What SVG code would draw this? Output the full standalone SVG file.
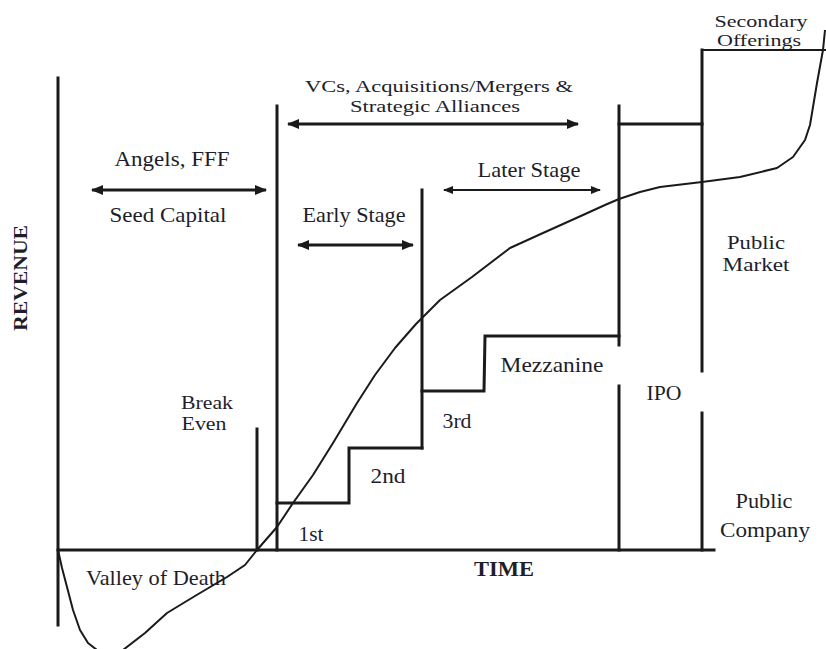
<svg xmlns="http://www.w3.org/2000/svg" width="826" height="649" viewBox="0 0 826 649">
<style>
.ln{stroke:#1a1a1a;stroke-width:3;fill:none;stroke-linecap:square}
.thin{stroke:#1a1a1a;stroke-width:2;fill:none}
.t{font-family:"Liberation Serif","Times New Roman",serif;font-size:21px;fill:#1e1e2a;text-anchor:middle}
.s{font-size:17px}
.m{font-size:18px}
.b{font-weight:bold}
</style>
<defs>
<marker id="ah" viewBox="0 0 12 10" refX="11" refY="5" markerWidth="12" markerHeight="10" markerUnits="userSpaceOnUse" orient="auto-start-reverse">
<path d="M0,0 L12,5 L0,10 Z" fill="#1a1a1a"/>
</marker>
<marker id="ahs" viewBox="0 0 10 8" refX="9" refY="4" markerWidth="10" markerHeight="8" markerUnits="userSpaceOnUse" orient="auto-start-reverse">
<path d="M0,0 L10,4 L0,8 Z" fill="#1a1a1a"/>
</marker>
</defs>
<rect width="826" height="649" fill="#fff"/>
<g id="axes">
<line class="ln" x1="58" y1="78" x2="58" y2="625"/>
<line class="ln" x1="58" y1="550" x2="714" y2="550"/>
<text class="t b" x="0" y="0" transform="translate(27,278) rotate(-90)" textLength="106" lengthAdjust="spacingAndGlyphs" style="font-size:18px">REVENUE</text>
<text class="t b" x="504" y="576" textLength="60" lengthAdjust="spacingAndGlyphs">TIME</text>
</g>
<g id="connectors">
<line class="ln" x1="257" y1="429" x2="257" y2="550"/>
<line class="ln" x1="277" y1="106" x2="277" y2="550"/>
<polyline class="ln" points="277,503 349,503 349,448 422,448"/>
<line class="ln" x1="422" y1="190" x2="422" y2="448"/>
<polyline class="ln" points="422,391 484,391 485,336 619,336"/>
<line class="ln" x1="619" y1="106" x2="619" y2="345"/>
<line class="ln" x1="619" y1="386" x2="619" y2="550"/>
<line class="ln" x1="619" y1="124" x2="702" y2="124"/>
<line class="ln" x1="702" y1="50" x2="702" y2="371"/>
<line class="ln" x1="702" y1="413" x2="702" y2="550"/>
<line class="thin" x1="702" y1="50" x2="826" y2="50"/>
<line class="ln" x1="92" y1="190" x2="266" y2="190" marker-start="url(#ah)" marker-end="url(#ah)" style="stroke-linecap:butt"/>
<line class="ln" x1="288" y1="124" x2="578" y2="124" marker-start="url(#ah)" marker-end="url(#ah)" style="stroke-linecap:butt"/>
<line class="ln" x1="298" y1="245" x2="413" y2="245" marker-start="url(#ah)" marker-end="url(#ah)" style="stroke-linecap:butt"/>
<line class="thin" x1="444" y1="190" x2="600" y2="190" marker-start="url(#ahs)" marker-end="url(#ahs)"/>
</g>
<g id="curve">
<polyline class="thin" stroke-linejoin="round" points="58,550 62,568 67,587 73,610 80,630 88,643 97,650 110,652 123,650 145,633 167,613 195,596 227,577 245,565 257,550 277,527 293,503 313,475 333,443 357,403 375,375 395,348 416,324 440,300 472,277 510,248 543,233 583,215 605,205 619,199 640,192 660,187 702,182 740,177 777,168 793,157 805,140 810,125 817,83 823,50 825,30"/>
</g>
<g id="labels">
<text class="t s" x="439" y="92" textLength="268" lengthAdjust="spacingAndGlyphs">VCs, Acquisitions/Mergers &amp;</text>
<text class="t s" x="435" y="112" textLength="170" lengthAdjust="spacingAndGlyphs">Strategic Alliances</text>
<text class="t" x="172" y="166" textLength="115" lengthAdjust="spacingAndGlyphs">Angels, FFF</text>
<text class="t" x="168" y="222" textLength="117" lengthAdjust="spacingAndGlyphs">Seed Capital</text>
<text class="t" x="354" y="222" textLength="103" lengthAdjust="spacingAndGlyphs">Early Stage</text>
<text class="t" x="529" y="177" textLength="103" lengthAdjust="spacingAndGlyphs">Later Stage</text>
<text class="t s" x="761" y="27" textLength="93" lengthAdjust="spacingAndGlyphs">Secondary</text>
<text class="t s" x="759" y="46" textLength="84" lengthAdjust="spacingAndGlyphs">Offerings</text>
<text class="t m" x="756" y="249" textLength="58" lengthAdjust="spacingAndGlyphs">Public</text>
<text class="t m" x="756" y="271" textLength="67" lengthAdjust="spacingAndGlyphs">Market</text>
<text class="t m" x="207" y="409" textLength="52" lengthAdjust="spacingAndGlyphs">Break</text>
<text class="t m" x="204" y="430" textLength="45" lengthAdjust="spacingAndGlyphs">Even</text>
<text class="t" x="156" y="585" textLength="140" lengthAdjust="spacingAndGlyphs">Valley of Death</text>
<text class="t" x="311" y="541" textLength="25" lengthAdjust="spacingAndGlyphs">1st</text>
<text class="t" x="388" y="483" textLength="35" lengthAdjust="spacingAndGlyphs">2nd</text>
<text class="t" x="457" y="428" textLength="29" lengthAdjust="spacingAndGlyphs">3rd</text>
<text class="t" x="552" y="372" textLength="103" lengthAdjust="spacingAndGlyphs">Mezzanine</text>
<text class="t" x="664" y="400" textLength="35" lengthAdjust="spacingAndGlyphs">IPO</text>
<text class="t" x="764" y="508" textLength="57" lengthAdjust="spacingAndGlyphs">Public</text>
<text class="t" x="765" y="537" textLength="90" lengthAdjust="spacingAndGlyphs">Company</text>
</g>
</svg>
